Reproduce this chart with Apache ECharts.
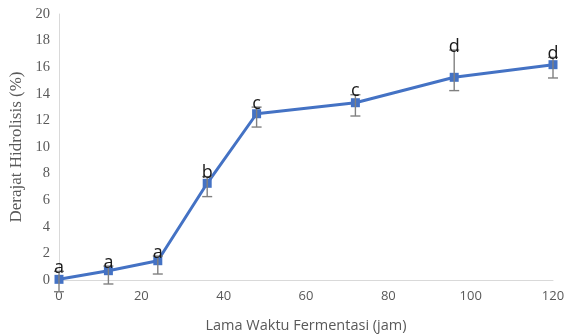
<!DOCTYPE html>
<html>
<head>
<meta charset="utf-8">
<script src="https://cdn.jsdelivr.net/npm/echarts@6/dist/echarts.min.js"></script>
<style>
  html, body { margin: 0; padding: 0; background: #fff; }
  #chart { width: 564px; height: 336px; }
</style>
</head>
<body>
<div id="chart"></div>
<script>
// Fermentation time (hours) and degree of hydrolysis (%)
const hours = [0, 12, 24, 36, 48, 72, 96, 120];
const hydrolysis = [0.05, 0.7, 1.45, 7.27, 12.5, 13.33, 15.24, 16.19];
const errPlus = [0.6, 0.35, 0.35, 0.5, 0.5, 0.6, 2.05, 0.55];
const errMinus = [0.93, 1.0, 1.0, 1.0, 1.0, 1.0, 1.0, 1.0];
const groups = ['a', 'a', 'a', 'b', 'c', 'c', 'd', 'd'];
const xTicks = [0, 20, 40, 60, 80, 100, 120];
const yTicks = [0, 2, 4, 6, 8, 10, 12, 14, 16, 18, 20];

const lineData = hours.map((h, i) => [h, hydrolysis[i]]);
const errData = hours.map((h, i) => [h, hydrolysis[i] - errMinus[i], hydrolysis[i] + errPlus[i], i]);

const chart = echarts.init(document.getElementById('chart'), null, { renderer: 'canvas' });

chart.setOption({
  animation: false,
  backgroundColor: '#ffffff',
  grid: { left: 59, right: 11, top: 14, bottom: 56, containLabel: false, outerBoundsMode: 'none' },
  xAxis: {
    type: 'value',
    min: xTicks[0],
    max: xTicks[xTicks.length - 1],
    interval: xTicks[1] - xTicks[0],
    name: 'Lama Waktu Fermentasi (jam)',
    nameLocation: 'middle',
    nameGap: 38,
    nameTextStyle: { fontFamily: 'Open Sans', fontSize: 14.5, color: '#595959' },
    axisLine: { show: true, lineStyle: { color: '#d9d9d9', width: 1 } },
    axisTick: { show: false },
    splitLine: { show: false },
    axisLabel: { fontFamily: 'Open Sans', fontSize: 13, color: '#595959', margin: 10 }
  },
  yAxis: {
    type: 'value',
    min: yTicks[0],
    max: yTicks[yTicks.length - 1],
    interval: yTicks[1] - yTicks[0],
    name: 'Derajat Hidrolisis (%)',
    nameLocation: 'middle',
    nameGap: 33,
    nameTextStyle: { fontFamily: 'Liberation Serif', fontSize: 17, color: '#595959' },
    axisLine: { show: true, lineStyle: { color: '#d9d9d9', width: 1 } },
    axisTick: { show: false },
    splitLine: { show: false },
    axisLabel: { fontFamily: 'Liberation Serif', fontSize: 14.5, color: '#595959', margin: 9 }
  },
  series: [
    {
      type: 'line',
      data: lineData,
      symbol: 'rect',
      symbolSize: 9,
      lineStyle: { color: '#4472c4', width: 3 },
      itemStyle: { color: '#4472c4' },
      z: 3
    },
    {
      // error bars with significance letters above the upper cap
      type: 'custom',
      data: errData,
      clip: false,
      z: 4,
      renderItem: function (params, api) {
        const x = api.value(0);
        const lo = api.coord([x, api.value(1)]);
        const hi = api.coord([x, api.value(2)]);
        const idx = api.value(3);
        const cap = 5;
        const stroke = { stroke: '#808080', lineWidth: 1.4 };
        return {
          type: 'group',
          children: [
            { type: 'line', shape: { x1: lo[0], y1: lo[1], x2: hi[0], y2: hi[1] }, style: stroke },
            { type: 'line', shape: { x1: lo[0] - cap, y1: lo[1], x2: lo[0] + cap, y2: lo[1] }, style: stroke },
            { type: 'line', shape: { x1: hi[0] - cap, y1: hi[1], x2: hi[0] + cap, y2: hi[1] }, style: stroke },
            {
              type: 'text',
              style: {
                text: groups[idx],
                x: hi[0],
                y: hi[1] + 5.5,
                align: 'center',
                verticalAlign: 'bottom',
                fontFamily: 'Open Sans',
                fontSize: 18,
                fill: '#1a1a1a'
              },
              z2: 10
            }
          ]
        };
      }
    }
  ]
});
</script>
</body>
</html>
